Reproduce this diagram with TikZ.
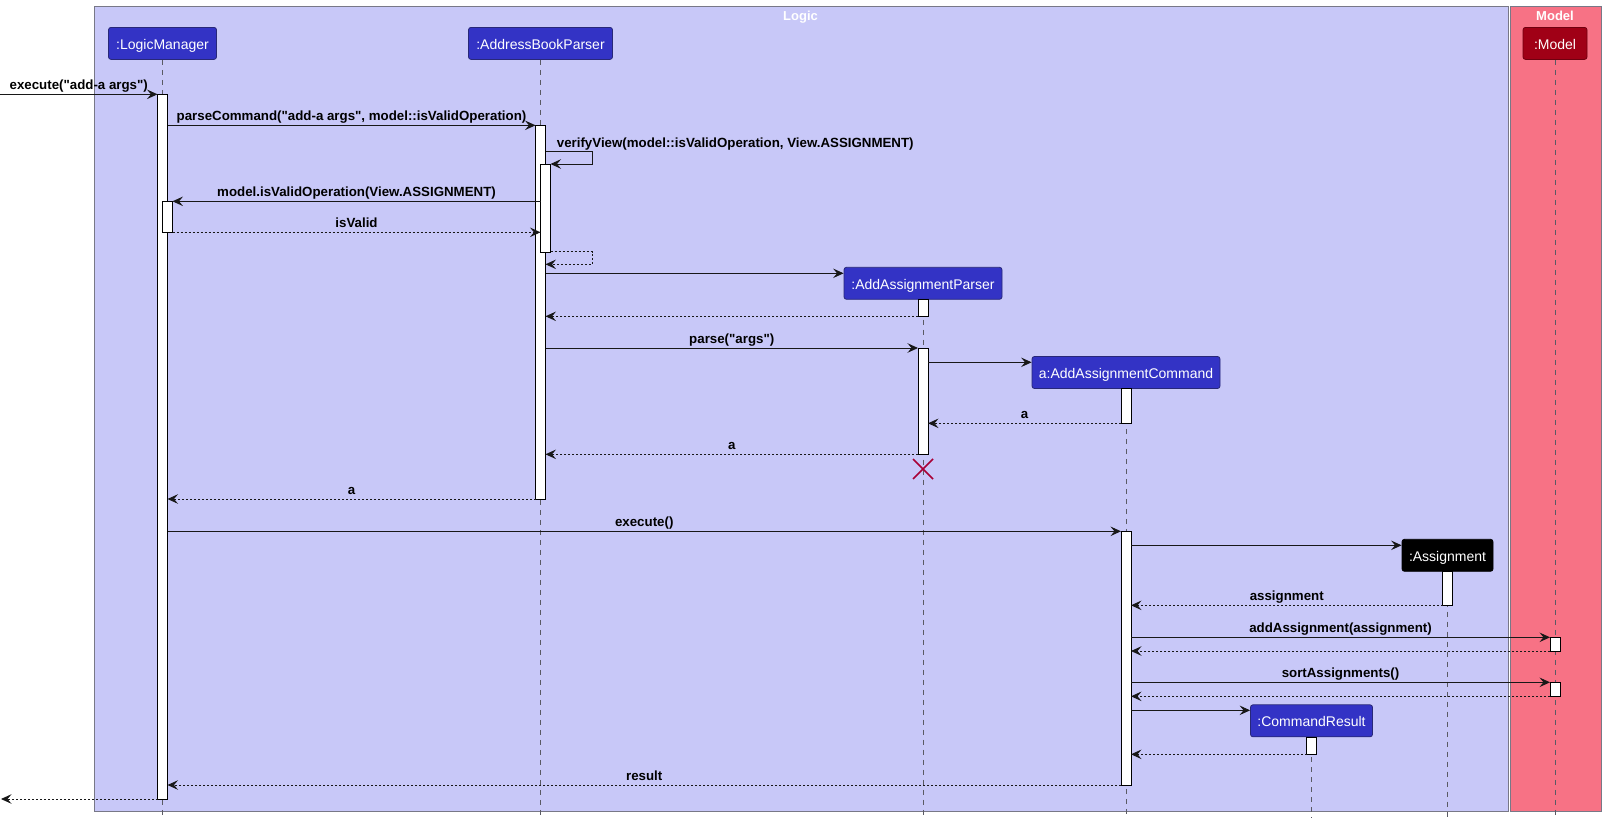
\documentclass[tikz,border=0pt]{standalone}
\usepackage{fontspec}
\usetikzlibrary{arrows.meta,calc}
\newfontfamily\lsans{Liberation Sans}
\definecolor{logicbg}{RGB}{200,200,248}
\definecolor{modelbg}{RGB}{247,114,133}
\definecolor{framec}{RGB}{120,120,135}
\definecolor{partblue}{RGB}{51,51,197}
\definecolor{partborder}{RGB}{40,40,120}
\definecolor{modelpart}{RGB}{160,0,22}
\definecolor{arrowc}{RGB}{24,24,24}
\definecolor{lifec}{RGB}{90,90,100}
\definecolor{xcol}{RGB}{168,0,54}
\newcommand\ptfont{\lsans\fontsize{14}{16}\selectfont}
\newcommand\lbfont{\lsans\bfseries\fontsize{13.3}{15}\selectfont}
\newcommand\seqmsg[6]{%
  \coordinate (#1s) at (#3,#5);
  \coordinate (#1e) at (#4,#5);
  \draw[#2] (#1s) -- (#1e);
  \path (#1s) -- (#1e) node[lbl, midway, yshift=5pt] (#1l) {#6};
}
\tikzset{
  msg/.style={draw=arrowc, line width=0.9pt, -{Stealth[length=10.5pt,width=9.5pt,inset=4pt]}},
  ret/.style={msg, dash pattern=on 2pt off 2pt},
  lbl/.style={font=\lbfont, anchor=base, inner sep=0pt, text=black},
  part/.style={rectangle, rounded corners=2.5pt, draw=partborder, line width=0.8pt, fill=partblue, text=white, font=\ptfont, minimum height=32pt, inner sep=0pt, text height=12pt, text depth=0pt},
  act/.style={draw=black, fill=white, line width=0.9pt},
  life/.style={draw=lifec, line width=0.8pt, dash pattern=on 5pt off 5pt},
  framebox/.style={rectangle, draw=framec, line width=1pt, anchor=north west, inner sep=0pt},
  ftitle/.style={font=\lsans\bfseries\fontsize{13}{15}\selectfont, text=white, anchor=base, inner sep=0pt}
}
\begin{document}
\begin{tikzpicture}[x=1pt,y=-1pt]
\useasboundingbox (0,0) rectangle (1606,823);
\fill[white] (0,0) rectangle (1606,823);
% frames
\node[framebox, fill=logicbg, minimum width=1413.7pt, minimum height=805pt] (logicframe) at (94,6) {};
\node[framebox, fill=modelbg, minimum width=91.3pt, minimum height=805pt] (modelframe) at (1509.7,6) {};
\node[ftitle] (logictitle) at (800.5,20.5) {Logic};
\node[ftitle] (modeltitle) at (1555,20.5) {Model};
% participants
\node[part, minimum width=108pt] (LM) at (162.5,43.4) {:LogicManager};
\node[part, minimum width=144pt] (ABP) at (540.5,43.4) {:AddressBookParser};
\node[part, minimum width=64pt, fill=modelpart, draw=modelpart!70!black] (MD) at (1555,43.4) {:Model};
\node[part, minimum width=158pt] (AAP) at (923,283.3) {:AddAssignmentParser};
\node[part, minimum width=188pt] (AAC) at (1126,372.5) {a:AddAssignmentCommand};
\node[part, minimum width=91pt, fill=black, draw=black] (ASG) at (1447.5,555.3) {:Assignment};
\node[part, minimum width=122pt] (CR) at (1311.5,720.8) {:CommandResult};
% lifelines
\draw[life] (LM.south) -- (LM.south |- 0,818);
\draw[life] (ABP.south) -- (ABP.south |- 0,818);
\draw[life] (MD.south) -- (MD.south |- 0,818);
\draw[life] (AAP.south) -- (AAP.south |- 0,818);
\draw[life] (AAC.south) -- (AAC.south |- 0,818);
\draw[life] (ASG.south) -- (ASG.south |- 0,818);
\draw[life] (CR.south) -- (CR.south |- 0,818);
% activation bars
\draw[act] (157.5,94.3) rectangle (167.5,799);
\draw[act] (162.5,201.3) rectangle (172.5,232.3);
\draw[act] (535.5,125.3) rectangle (545.5,499);
\draw[act] (540.5,164) rectangle (550.5,252.3);
\draw[act] (918,299.3) rectangle (928,316.3);
\draw[act] (918,348) rectangle (928,454.3);
\draw[act] (1121,388.3) rectangle (1131,423.3);
\draw[act] (1121,531.3) rectangle (1131,785);
\draw[act] (1442.5,571.3) rectangle (1452.5,605.3);
\draw[act] (1550,637.3) rectangle (1560,651);
\draw[act] (1550,682.3) rectangle (1560,696.3);
\draw[act] (1306.5,737.3) rectangle (1316.5,754.3);
% messages
\seqmsg{m1}{msg}{0}{157.5}{94.3}{execute("add-a args")}
\seqmsg{m2}{msg}{167.5}{535.5}{125.3}{parseCommand("add-a args", model::isValidOperation)}
\coordinate (m3s) at (545.5,151.7);
\coordinate (m3e) at (550.5,164);
\draw[msg] (m3s) -- (592.3,151.7) -- (592.3,164) -- (m3e);
\node[lbl, anchor=base west] (m3l) at (556.7,147) {verifyView(model::isValidOperation, View.ASSIGNMENT)};
\seqmsg{m4}{msg}{540.5}{172.5}{201.3}{model.isValidOperation(View.ASSIGNMENT)}
\seqmsg{m5}{ret}{172.5}{540.5}{232.3}{isValid}
\coordinate (m6s) at (550.5,251.7);
\coordinate (m6e) at (545.5,264.3);
\draw[ret] (m6s) -- (592.3,251.7) -- (592.3,264.3) -- (m6e);
\coordinate (m7s) at (545.5,273.3);
\draw[msg] (m7s) -- (AAP.west |- m7s);
\seqmsg{m8}{ret}{918}{545.5}{316.3}{}
\seqmsg{m9}{msg}{545.5}{918}{348}{parse("args")}
\coordinate (m10s) at (928,362.3);
\draw[msg] (m10s) -- (AAC.west |- m10s);
\seqmsg{m11}{ret}{1121}{928}{423.3}{a}
\seqmsg{m12}{ret}{918}{545.5}{454.3}{a}
\coordinate (destroy) at (923,469);
\draw[xcol, line width=1.5pt] ($(destroy)+(-10,-10)$) -- ($(destroy)+(10,10)$) ($(destroy)+(-10,10)$) -- ($(destroy)+(10,-10)$);
\seqmsg{m13}{ret}{535.5}{167.5}{499}{a}
\seqmsg{m14}{msg}{167.5}{1121}{531.3}{execute()}
\coordinate (m15s) at (1131,545.3);
\draw[msg] (m15s) -- (ASG.west |- m15s);
\seqmsg{m16}{ret}{1442.5}{1131}{605.3}{assignment}
\seqmsg{m17}{msg}{1131}{1550}{637.3}{addAssignment(assignment)}
\seqmsg{m18}{ret}{1550}{1131}{651}{}
\seqmsg{m19}{msg}{1131}{1550}{682.3}{sortAssignments()}
\seqmsg{m20}{ret}{1550}{1131}{696.3}{}
\coordinate (m21s) at (1131,710.3);
\draw[msg] (m21s) -- (CR.west |- m21s);
\seqmsg{m22}{ret}{1306.5}{1131}{754.3}{}
\seqmsg{m23}{ret}{1121}{167.5}{785}{result}
\seqmsg{m24}{ret}{157.5}{1}{799}{}
\end{tikzpicture}
\end{document}
